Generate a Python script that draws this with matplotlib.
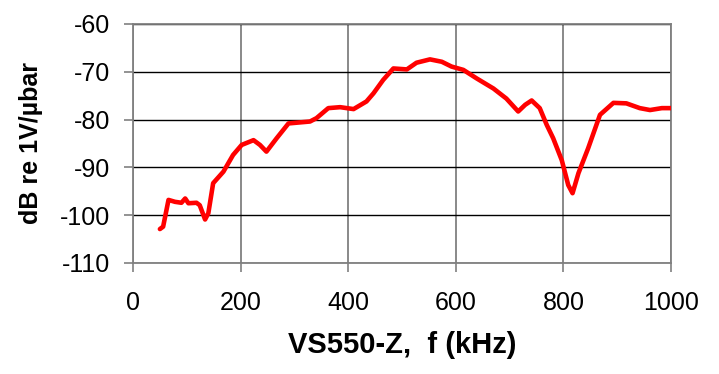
import matplotlib
matplotlib.use('Agg')
import matplotlib.pyplot as plt

plt.rcParams['font.family'] = ['Liberation Sans', 'DejaVu Sans']

# frequency response, VS550-Z sensor
freq_khz = [50, 56, 66, 78, 90, 97, 103, 118, 124, 134, 140, 149, 168, 186,
            202, 224, 236, 248, 267, 289, 329, 341, 363, 385, 410, 434, 447,
            465, 484, 509, 527, 552, 574, 592, 614, 639, 670, 694, 716, 729,
            741, 756, 769, 781, 797, 809, 817, 828, 846, 868, 893, 917, 942,
            961, 983, 1000]
level_db = [-102.9, -102.4, -96.8, -97.2, -97.4, -96.5, -97.5, -97.4, -97.9,
            -100.9, -99.6, -93.3, -90.9, -87.4, -85.3, -84.3, -85.3, -86.7,
            -83.9, -80.8, -80.4, -79.7, -77.6, -77.4, -77.8, -76.2, -74.5,
            -71.7, -69.3, -69.5, -68.1, -67.4, -67.9, -68.9, -69.6, -71.4,
            -73.5, -75.6, -78.3, -76.9, -76.0, -77.6, -81.1, -83.9, -88.5,
            -93.7, -95.4, -91.2, -86.0, -79.0, -76.5, -76.6, -77.6, -78.0,
            -77.6, -77.6]

x_ticks = [0, 200, 400, 600, 800, 1000]
y_ticks = [-110, -100, -90, -80, -70, -60]

fig = plt.figure(figsize=(7.19, 3.74), dpi=100)
ax = fig.add_axes([133 / 719, 1 - 263 / 374, 538 / 719, 239 / 374])

ax.plot(freq_khz, level_db, color='#ff0000', lw=3.3, solid_capstyle='round',
        solid_joinstyle='round', zorder=3)

ax.set_xlim(0, 1000)
ax.set_ylim(-110, -60)
ax.set_xticks(x_ticks)
ax.set_yticks(y_ticks)
ax.set_yticklabels([str(v) for v in y_ticks])

# vertical grid grey, horizontal grid black
ax.xaxis.grid(True, color='#808080', lw=1.3)
ax.yaxis.grid(True, color='#000000', lw=1.0)
for sp in ax.spines.values():
    sp.set_color('#808080')
    sp.set_linewidth(1.3)

ax.tick_params(axis='both', labelcolor='#000000', color='#808080',
               labelsize=18, length=6.5, width=1.2)
ax.tick_params(axis='x', pad=14)
ax.tick_params(axis='y', pad=10)

ax.set_xlabel('VS550-Z,  f (kHz)', fontsize=21, fontweight='bold', labelpad=11)
ax.set_ylabel('dB re 1V/µbar', fontsize=18, fontweight='bold', labelpad=12)

fig.savefig('out.png', dpi=100, facecolor='white')
